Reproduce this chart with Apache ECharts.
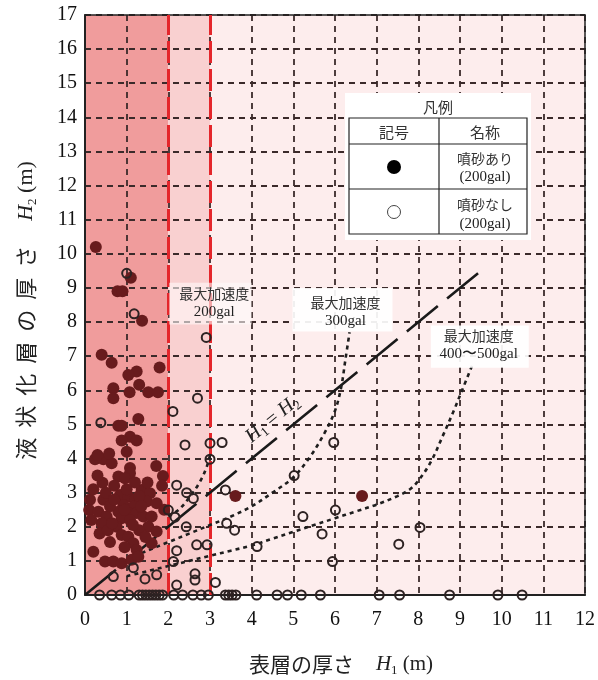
<!DOCTYPE html>
<html><head><meta charset="utf-8">
<script src="https://cdn.jsdelivr.net/npm/echarts@6.0.0/dist/echarts.min.js"></script>
<style>html,body{margin:0;padding:0;background:#fff}#c{width:598px;height:680px}</style>
</head><body><div id="c"></div>
<script>
// ---- data ----
const filledPts = [
[0.26,10.2],[1.1,9.3],[0.78,8.9],[0.9,8.9],[1.37,8.04],
[0.4,7.04],[0.64,6.81],[1.79,6.67],[1.24,6.55],[1.04,6.45],[0.68,6.06],[0.68,5.77],[1.3,6.16],[1.07,5.94],[1.52,5.94],[1.75,5.94],
[0.8,4.96],[0.88,4.96],[1.28,5.16],[1.08,4.64],[0.88,4.53],[1.24,4.53],
[0.24,3.98],[0.44,3.98],[0.64,3.86],[0.58,4.15],[1.08,3.72],[1.08,3.57],[1.71,3.78],[1.87,3.49],[0.8,3.47],[0.96,3.42],[0.42,3.29],[1.36,3.08],[1.56,2.98],
[0.84,2.93],[1.04,2.88],[1.2,2.79],[0.92,2.64],[1.16,2.59],[0.8,2.44],[1.04,2.4],[1.24,2.4],[0.88,2.25],[1.08,2.2],
[0.12,2.79],[0.1,2.49],[0.44,2.79],[0.32,2.44],[0.52,2.3],[0.4,2.1],[1.48,2.74],[1.72,2.69],[1.9,2.5],[1.52,2.0],[1.72,1.86],[0.76,2.0],[0.88,1.76],[1.04,1.71],[0.2,1.27],[1.16,1.52],[1.24,1.32],[1.6,1.52],[0.48,0.98],[0.68,0.98],[0.88,0.93],[1.12,1.03],[1.28,1.12],
[0.3,4.1],[0.7,3.2],[0.6,2.6],[1.3,2.9],[1.4,2.3],[1.3,1.9],[0.95,1.4],[0.35,1.8],[0.6,1.55],[1.45,1.7],[0.2,3.1],[1.2,3.3],[1.0,4.2],
[0.3,3.5],[0.5,3.0],[0.15,2.2],[0.55,1.9],[1.35,2.6],[1.6,2.3],[1.0,3.1],[0.7,2.8],[0.65,2.1],[1.15,2.05],[0.95,2.5],[1.5,3.3],[1.85,3.2],
[3.61,2.9],[6.65,2.9]
];
const openPts = [
[1.0,9.43],[1.18,8.24],[2.91,7.55],[2.7,5.77],[2.11,5.38],[0.38,5.05],[2.4,4.4],[3.0,4.45],[3.29,4.47],[3.0,3.98],
[2.2,3.22],[2.44,3.0],[2.6,2.83],[3.37,3.08],[2.0,2.49],[2.16,2.28],[2.43,2.0],[2.68,1.47],[2.93,1.47],[3.4,2.1],
[3.59,1.9],[4.13,1.42],[2.2,1.3],[2.12,0.98],[2.64,0.62],[2.64,0.44],[2.2,0.29],[3.13,0.37],[0.68,0.54],[1.16,0.8],
[1.44,0.47],[1.72,0.59],[5.97,4.47],[5.02,3.5],[6.01,2.49],[5.23,2.3],[5.69,1.79],[5.94,0.98],[7.53,1.49],[8.04,1.98]
];
const zeroRowX = [0.35,0.64,0.85,1.05,1.3,1.38,1.46,1.54,1.62,1.7,1.78,1.86,2.13,2.34,2.59,2.79,2.96,3.37,3.45,3.53,3.62,4.12,4.61,4.86,5.19,5.65,7.06,7.55,8.75,9.91,10.49];
const curve200 = [[2.0,2.3],[2.25,2.5],[2.5,2.85],[2.75,3.3],[2.92,3.75],[3.0,4.1]];
const curve300 = [[1.0,1.05],[1.5,1.3],[2.0,1.55],[2.5,1.8],[3.0,2.05],[3.5,2.3],[4.0,2.6],[4.5,3.0],[5.0,3.45],[5.4,4.05],[5.75,4.75],[6.0,5.4],[6.15,6.1],[6.25,6.9],[6.35,7.7]];
const curve400 = [[1.0,0.55],[1.5,0.7],[2.0,0.85],[2.5,1.0],[3.0,1.15],[3.5,1.3],[4.0,1.45],[4.5,1.65],[5.0,1.85],[5.5,2.05],[6.0,2.25],[6.5,2.45],[7.0,2.65],[7.5,2.9],[7.8,3.1],[8.0,3.35],[8.3,3.9],[8.6,4.7],[8.85,5.4],[9.05,6.0],[9.3,6.75]];
const equalLine = [[0,0],[9.5,9.5]];
const zones = [[0,2],[2,3],[3,12]];
const redLinesX = [2,3];
const xRange = [0,12];
const yRange = [0,17];

// ---- styles ----
const zoneColors = ['#f09c9c','#f9d0d0','#fdeded'];
const serif = 'Liberation Serif';
const jp = 'Noto Sans CJK JP';
const gridDash = {color:'#3b2a2a', width:1.8, type:[6,5]};
const curveStyle = {color:'#1e1e1e', width:2.6, type:[4,4]};

const chart = echarts.init(document.getElementById('c'), null, {renderer:'canvas'});

const zeroRow = zeroRowX.map(x=>[x,0]);

const option = {
  animation:false,
  backgroundColor:'#fff',
  grid:{left:85, right:13, top:15, bottom:85, containLabel:false, outerBoundsMode:'none'},
  xAxis:[{
    type:'value', min:xRange[0], max:xRange[1], interval:1, z:2,
    axisLine:{show:true, onZero:false, lineStyle:{color:'#222', width:2}},
    axisTick:{show:false},
    axisLabel:{fontFamily:serif, fontSize:20, color:'#111', margin:15},
    splitLine:{show:true, lineStyle:gridDash},
    name:'{jp|表層の厚さ}{g| }{it|H}{sub|1}{rm| (m)}',
    nameLocation:'middle', nameGap:56,
    nameTextStyle:{padding:[0,0,0,12], rich:{
      jp:{fontFamily:jp, fontSize:21, color:'#222', lineHeight:26},
      g:{width:22},
      it:{fontFamily:serif, fontStyle:'italic', fontSize:21, color:'#222', lineHeight:26},
      sub:{fontFamily:serif, fontSize:13, color:'#222', verticalAlign:'bottom', lineHeight:20},
      rm:{fontFamily:serif, fontSize:21, color:'#222', lineHeight:26}
    }}
  },{
    type:'value', position:'top', min:xRange[0], max:xRange[1], z:2,
    axisLine:{show:true, onZero:false, lineStyle:{color:'#222', width:1.5}},
    axisTick:{show:false}, axisLabel:{show:false}, splitLine:{show:false}
  }],
  yAxis:[{
    type:'value', min:yRange[0], max:yRange[1], interval:1, z:2,
    axisLine:{show:true, onZero:false, lineStyle:{color:'#222', width:2}},
    axisTick:{show:false},
    axisLabel:{fontFamily:serif, fontSize:20, color:'#111', margin:8},
    splitLine:{show:true, lineStyle:gridDash},
    name:'{c|液}{c|状}{c|化}{c|層}{c|の}{c|厚}{c|さ}{g| }{it|H}{sub|2}{rm| (m)}',
    nameLocation:'middle', nameGap:46,
    nameTextStyle:{padding:[0,16,0,0], rich:{
      c:{fontFamily:jp, fontSize:22, color:'#222', padding:[0,5,0,5], lineHeight:26},
      g:{width:20},
      it:{fontFamily:serif, fontStyle:'italic', fontSize:22, color:'#222', lineHeight:26},
      sub:{fontFamily:serif, fontSize:13, color:'#222', verticalAlign:'bottom', lineHeight:20},
      rm:{fontFamily:serif, fontSize:22, color:'#222', lineHeight:26}
    }}
  },{
    type:'value', position:'right', min:yRange[0], max:yRange[1], z:2,
    axisLine:{show:true, onZero:false, lineStyle:{color:'#222', width:1.5}},
    axisTick:{show:false}, axisLabel:{show:false}, splitLine:{show:false}
  }],
  series:[
    {type:'line', data:[], silent:true, z:1,
     markArea:{silent:true, z:1, data: zones.map((z,i)=>[{xAxis:z[0], itemStyle:{color:zoneColors[i]}},{xAxis:z[1]}])},
     markLine:{silent:true, z:5, symbol:'none', label:{show:false}, animation:false,
       lineStyle:{color:'#e4262b', width:3, type:[22,6]},
       data: redLinesX.map(x=>({xAxis:x}))}
    },
    {type:'line', data:equalLine, showSymbol:false, symbol:'none', z:6, silent:true,
     lineStyle:{color:'#1a1a1a', width:2.6, type:[40,12]}},
    {type:'line', data:curve200, smooth:0.35, showSymbol:false, symbol:'none', z:6, silent:true, lineStyle:curveStyle},
    {type:'line', data:curve300, smooth:0.35, showSymbol:false, symbol:'none', z:6, silent:true, lineStyle:curveStyle},
    {type:'line', data:curve400, smooth:0.35, showSymbol:false, symbol:'none', z:6, silent:true, lineStyle:curveStyle},
    {name:'噴砂あり', type:'scatter', data:filledPts, symbol:'circle', symbolSize:12, z:10, clip:false,
     itemStyle:{color:'#681b1d', opacity:1}},
    {name:'噴砂なし', type:'scatter', data:openPts.concat(zeroRow), symbol:'circle', symbolSize:9, z:11, clip:false,
     itemStyle:{color:'rgba(255,255,255,0)', borderColor:'#2d2222', borderWidth:2, opacity:1}}
  ]
};
chart.setOption(option);

// ---- annotations & legend table (graphic) ----
const P = (x,y)=>chart.convertToPixel({gridIndex:0},[x,y]);
const boxFrom = (x1,y1,x2,y2,fill)=>{
  const a=P(x1,y1), b=P(x2,y2);
  return {type:'rect', z:15, shape:{x:Math.min(a[0],b[0]), y:Math.min(a[1],b[1]), width:Math.abs(b[0]-a[0]), height:Math.abs(b[1]-a[1])}, style:{fill:fill}};
};
const annText = (x,y,l1,l2)=>{
  const p=P(x,y);
  return {type:'text', z:16, x:p[0], y:p[1], style:{
    text:'{j|'+l1+'}\n{s|'+l2+'}', align:'center', verticalAlign:'middle',
    rich:{j:{fontFamily:jp, fontSize:14, fill:'#333', lineHeight:19, align:'center'},
          s:{fontFamily:serif, fontSize:15, fill:'#222', lineHeight:19, align:'center'}}}};
};
const pe = P(4.5,5.15);
const graphics = [
  boxFrom(2.02,9.15,4.0,7.93,'rgba(255,250,250,0.6)'),
  boxFrom(4.98,9.0,7.38,7.72,'rgba(255,255,255,0.92)'),
  boxFrom(8.3,7.9,10.65,6.66,'rgba(255,255,255,0.92)'),
  annText(3.1,8.56,'最大加速度','200gal'),
  annText(6.25,8.3,'最大加速度','300gal'),
  annText(9.45,7.33,'最大加速度','400〜500gal'),
  {type:'text', z:16, x:pe[0], y:pe[1], rotation:39.3*Math.PI/180, style:{
    text:'{i|H}{b|1}{r| = }{i|H}{b|2}', align:'center', verticalAlign:'middle',
    rich:{i:{fontFamily:serif, fontStyle:'italic', fontSize:20, fill:'#222', lineHeight:24},
          b:{fontFamily:serif, fontSize:13, fill:'#222', verticalAlign:'bottom', lineHeight:18},
          r:{fontFamily:serif, fontSize:20, fill:'#222', lineHeight:24}}}},
  // legend table
  {type:'rect', z:20, shape:{x:345, y:93, width:186, height:147}, style:{fill:'#fff'}},
  {type:'text', z:21, x:438, y:107, style:{text:'凡例', fontFamily:jp, fontSize:15, fill:'#333', align:'center', verticalAlign:'middle'}},
  {type:'rect', z:21, shape:{x:349, y:118, width:178, height:116}, style:{fill:'none', stroke:'#222', lineWidth:1.2}},
  {type:'line', z:21, shape:{x1:439, y1:118, x2:439, y2:234}, style:{stroke:'#222', lineWidth:1.2}},
  {type:'line', z:21, shape:{x1:349, y1:144, x2:527, y2:144}, style:{stroke:'#222', lineWidth:1.2}},
  {type:'line', z:21, shape:{x1:349, y1:189, x2:527, y2:189}, style:{stroke:'#222', lineWidth:1.2}},
  {type:'text', z:21, x:394, y:132, style:{text:'記号', fontFamily:jp, fontSize:15, fill:'#333', align:'center', verticalAlign:'middle'}},
  {type:'text', z:21, x:485, y:132, style:{text:'名称', fontFamily:jp, fontSize:15, fill:'#333', align:'center', verticalAlign:'middle'}},
  {type:'circle', z:21, shape:{cx:394, cy:167, r:7}, style:{fill:'#000'}},
  {type:'circle', z:21, shape:{cx:394, cy:212, r:6.5}, style:{fill:'#fff', stroke:'#444', lineWidth:1}},
  {type:'text', z:21, x:485, y:159, style:{text:'噴砂あり', fontFamily:jp, fontSize:14, fill:'#333', align:'center', verticalAlign:'middle'}},
  {type:'text', z:21, x:485, y:177, style:{text:'(200gal)', fontFamily:serif, fontSize:15, fill:'#222', align:'center', verticalAlign:'middle'}},
  {type:'text', z:21, x:485, y:205, style:{text:'噴砂なし', fontFamily:jp, fontSize:14, fill:'#333', align:'center', verticalAlign:'middle'}},
  {type:'text', z:21, x:485, y:224, style:{text:'(200gal)', fontFamily:serif, fontSize:15, fill:'#222', align:'center', verticalAlign:'middle'}}
];
chart.setOption({graphic:graphics});
</script></body></html>
